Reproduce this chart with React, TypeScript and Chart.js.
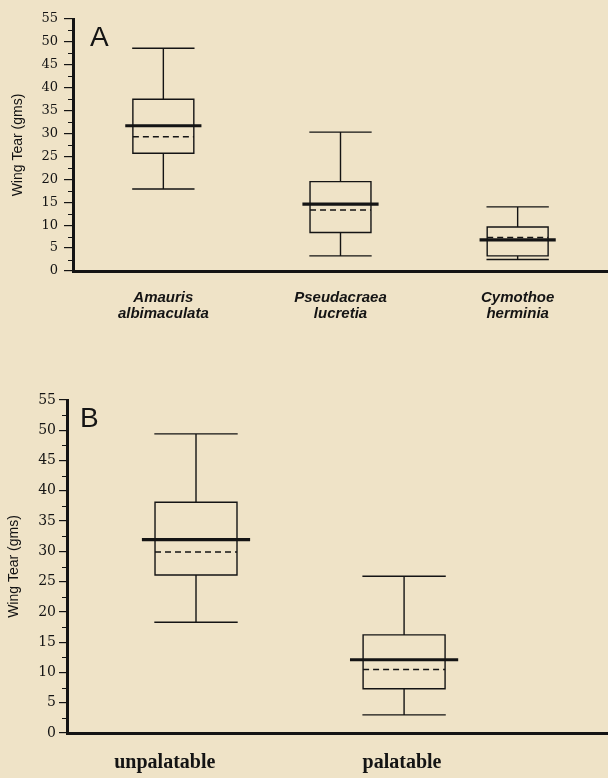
import React, { useEffect, useRef } from 'react';
import { Chart, registerables } from 'chart.js';

Chart.register(...registerables);

// ---------- data ----------
const categoriesA: string[][] = [
  ['Amauris', 'albimaculata'],
  ['Pseudacraea', 'lucretia'],
  ['Cymothoe', 'herminia'],
];
const minA = [17.9, 3.3, 2.5];
const q1A = [25.7, 8.4, 3.3];
const medianA = [31.7, 14.6, 6.8];
const meanA = [29.3, 13.3, 7.3];
const q3A = [37.5, 19.5, 9.6];
const maxA = [48.6, 30.3, 14.0];

const categoriesB: string[] = ['unpalatable', 'palatable'];
const minB = [18.3, 3.0];
const q1B = [26.1, 7.3];
const medianB = [31.95, 12.1];
const meanB = [29.9, 10.5];
const q3B = [38.1, 16.2];
const maxB = [49.4, 25.9];

const yMin = 0;
const yMax = 55;
const yStep = 5;
const yAxisTitle = 'Wing Tear (gms)';
const panelLetters = ['A', 'B'];

// ---------- styles ----------
const BG = '#EFE3C7';
const INK = '#141414';

type Pt = { x: number; y: number | null };

function buildDatasets(
  mins: number[], q1s: number[], meds: number[], means: number[], q3s: number[], maxs: number[],
  boxHalf: number, medHalf: number,
) {
  const frame: Pt[] = [];
  const medLine: Pt[] = [];
  const meanLine: Pt[] = [];
  mins.forEach((_, i) => {
    const c = i + 1;
    const l = c - boxHalf;
    const r = c + boxHalf;
    const gap = { x: c, y: null };
    frame.push({ x: l, y: q1s[i] }, { x: r, y: q1s[i] }, { x: r, y: q3s[i] }, { x: l, y: q3s[i] }, { x: l, y: q1s[i] }, gap);
    frame.push({ x: c, y: q3s[i] }, { x: c, y: maxs[i] }, { ...gap });
    frame.push({ x: l, y: maxs[i] }, { x: r, y: maxs[i] }, { ...gap });
    frame.push({ x: c, y: q1s[i] }, { x: c, y: mins[i] }, { ...gap });
    frame.push({ x: l, y: mins[i] }, { x: r, y: mins[i] }, { ...gap });
    medLine.push({ x: c - medHalf, y: meds[i] }, { x: c + medHalf, y: meds[i] }, { ...gap });
    meanLine.push({ x: l, y: means[i] }, { x: r, y: means[i] }, { ...gap });
  });
  const common = { pointRadius: 0, pointHoverRadius: 0, fill: false, tension: 0, spanGaps: false, borderColor: INK };
  return [
    { ...common, data: frame, borderWidth: 1.4, borderJoinStyle: 'miter' as const, borderCapStyle: 'square' as const },
    { ...common, data: meanLine, borderWidth: 1.5, borderDash: [6, 4] },
    { ...common, data: medLine, borderWidth: 3.2 },
  ];
}

const extrasPlugin = {
  id: 'extras',
  afterDraw(chart: any, _args: any, opts: any) {
    const { ctx, chartArea, scales } = chart;
    const y = scales.y;
    ctx.save();
    ctx.strokeStyle = INK;
    ctx.lineWidth = 1.2;
    ctx.beginPath();
    for (let v = yMin + yStep / 2; v < yMax; v += yStep) {
      const py = Math.round(y.getPixelForValue(v)) + 0.5;
      ctx.moveTo(chartArea.left - opts.minorLength, py);
      ctx.lineTo(chartArea.left, py);
    }
    ctx.stroke();
    ctx.fillStyle = INK;
    ctx.font = opts.letterFont;
    ctx.textBaseline = 'alphabetic';
    ctx.textAlign = 'left';
    ctx.fillText(opts.letter, chartArea.left + opts.letterDx, chartArea.top + opts.letterDy);
    ctx.restore();
  },
};

function makeConfig(p: {
  datasets: any[]; xMin: number; xMax: number; tickPositions: number[]; labels: any[];
  padTop: number; axisWidth: number; axisHeight: number; xFont: any; xPad: number;
  yFontSize: number; yTickLen: number; yPad: number; titlePad: number; letter: string;
  letterDx: number; letterDy: number;
}) {
  return {
    type: 'line' as const,
    data: { datasets: p.datasets },
    options: {
      animation: false as const,
      responsive: false,
      maintainAspectRatio: false,
      layout: { padding: { top: p.padTop, left: 0, right: 0, bottom: 0 } },
      plugins: {
        legend: { display: false },
        tooltip: { enabled: false },
        extras: {
          minorLength: 5,
          letter: p.letter,
          letterDx: p.letterDx,
          letterDy: p.letterDy,
          letterFont: '28px "Liberation Sans", Arial, sans-serif',
        },
      },
      events: [],
      scales: {
        x: {
          type: 'linear' as const,
          min: p.xMin,
          max: p.xMax,
          afterBuildTicks: (s: any) => { s.ticks = p.tickPositions.map((v) => ({ value: v })); },
          afterFit: (s: any) => { s.height = p.axisHeight; },
          ticks: {
            autoSkip: false,
            maxRotation: 0,
            minRotation: 0,
            color: INK,
            padding: p.xPad,
            font: p.xFont,
            callback: (_v: any, i: number) => p.labels[i],
          },
          grid: { drawOnChartArea: false, drawTicks: false, color: 'rgba(0,0,0,0)' },
          border: { display: true, width: 3, color: INK },
        },
        y: {
          type: 'linear' as const,
          min: yMin,
          max: yMax,
          afterFit: (s: any) => { s.width = p.axisWidth; },
          ticks: {
            stepSize: yStep,
            color: INK,
            padding: p.yPad,
            font: { family: '"DejaVu Serif", "Liberation Serif", serif', size: p.yFontSize },
          },
          grid: { drawOnChartArea: false, drawTicks: true, tickLength: p.yTickLen, color: INK, lineWidth: 1.2 },
          border: { display: true, width: 3, color: INK },
          title: {
            display: true,
            text: yAxisTitle,
            color: INK,
            font: { family: '"Liberation Sans", Arial, sans-serif', size: 14 },
            padding: { top: p.titlePad, bottom: 0 },
          },
        },
      },
    },
    plugins: [extrasPlugin],
  };
}

export default function App() {
  const refA = useRef<HTMLCanvasElement>(null);
  const refB = useRef<HTMLCanvasElement>(null);

  useEffect(() => {
    const cfgA = makeConfig({
      datasets: buildDatasets(minA, q1A, medianA, meanA, q3A, maxA, 0.172, 0.215),
      xMin: 0.49,
      xMax: 3.51,
      tickPositions: categoriesA.map((_, i) => i + 1),
      labels: categoriesA,
      padTop: 19,
      axisWidth: 73,
      axisHeight: 69,
      xFont: { family: '"Liberation Sans", Arial, sans-serif', size: 15, weight: 'bold', style: 'italic', lineHeight: 1.07 },
      xPad: 19,
      yFontSize: 13,
      yTickLen: 9,
      yPad: 6,
      titlePad: 10,
      letter: panelLetters[0],
      letterDx: 17,
      letterDy: 27,
    });
    const cfgB = makeConfig({
      datasets: buildDatasets(minB, q1B, medianB, meanB, q3B, maxB, 0.197, 0.26),
      xMin: 0.38,
      xMax: 2.98,
      tickPositions: [0.85, 1.99],
      labels: categoriesB,
      padTop: 60,
      axisWidth: 67,
      axisHeight: 45,
      xFont: { family: '"Liberation Serif", "Times New Roman", serif', size: 20, weight: 'bold', lineHeight: 1.2 },
      xPad: 18,
      yFontSize: 14,
      yTickLen: 8,
      yPad: 3,
      titlePad: 6,
      letter: panelLetters[1],
      letterDx: 13,
      letterDy: 27,
    });
    const a = new Chart(refA.current as HTMLCanvasElement, cfgA as any);
    const b = new Chart(refB.current as HTMLCanvasElement, cfgB as any);
    return () => {
      a.destroy();
      b.destroy();
    };
  }, []);

  return (
    <div style={{ position: 'absolute', left: 0, top: 0, width: 608, height: 778, background: BG, overflow: 'hidden' }}>
      <canvas ref={refA} width={608} height={340} style={{ position: 'absolute', left: 0, top: 0, width: 608, height: 340 }} />
      <canvas ref={refB} width={608} height={438} style={{ position: 'absolute', left: 0, top: 340, width: 608, height: 438 }} />
    </div>
  );
}
